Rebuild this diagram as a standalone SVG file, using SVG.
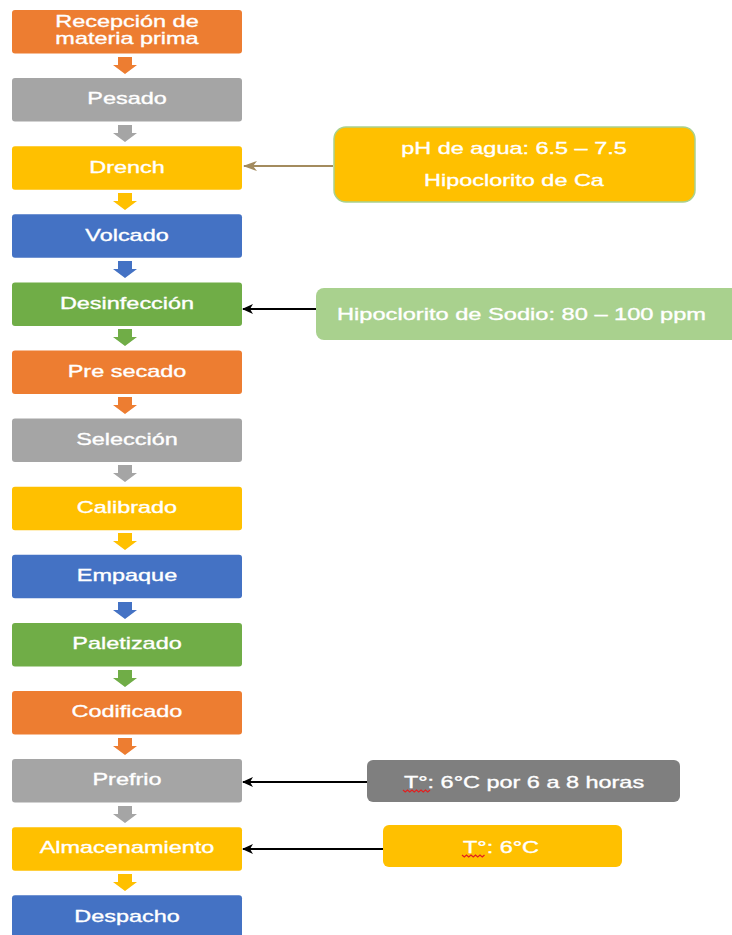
<svg xmlns="http://www.w3.org/2000/svg" width="732" height="935" viewBox="0 0 732 935">
<style>
.t{font-family:"Liberation Sans",Arial,sans-serif;font-size:17px;fill:#ffffff;stroke:#ffffff;stroke-width:0.35;text-anchor:middle}
.ts{text-anchor:start}
.or{fill:#ED7D31}.gr{fill:#A5A5A5}.ye{fill:#FFC000}.bl{fill:#4472C4}.gn{fill:#70AD47}
.ln{stroke:#000;stroke-width:1.8;fill:none}
.sq{stroke:#E02020;stroke-width:1.2;fill:none}
</style>
<defs>
<marker id="ah" markerWidth="11" markerHeight="10" refX="10" refY="5" orient="auto" markerUnits="userSpaceOnUse">
<path d="M0,0 L11,5 L0,10 L3,5 Z" fill="#000"/>
</marker>
<marker id="ahT" markerWidth="14" markerHeight="10" refX="13" refY="5" orient="auto" markerUnits="userSpaceOnUse">
<path d="M0,0 L14,5 L0,10 L4,5 Z" fill="#A38B5E"/>
</marker>
</defs>

<g id="n-recepcion"><rect class="or" x="12" y="10" width="230" height="43.5" rx="3"/>
<text class="t" transform="matrix(1.38 0 0 1 127 27)">Recepción de</text>
<text class="t" transform="matrix(1.38 0 0 1 127 44)">materia prima</text></g>
<g id="n-pesado"><rect class="gr" x="12" y="78.1" width="230" height="43.5" rx="3"/>
<text class="t" transform="matrix(1.38 0 0 1 127 104)">Pesado</text></g>
<g id="n-drench"><rect class="ye" x="12" y="146.2" width="230" height="43.5" rx="3"/>
<text class="t" transform="matrix(1.38 0 0 1 127 173)">Drench</text></g>
<g id="n-volcado"><rect class="bl" x="12" y="214.3" width="230" height="43.5" rx="3"/>
<text class="t" transform="matrix(1.38 0 0 1 127 241)">Volcado</text></g>
<g id="n-desinfeccion"><rect class="gn" x="12" y="282.4" width="230" height="43.5" rx="3"/>
<text class="t" transform="matrix(1.38 0 0 1 127 309)">Desinfección</text></g>
<g id="n-presecado"><rect class="or" x="12" y="350.5" width="230" height="43.5" rx="3"/>
<text class="t" transform="matrix(1.38 0 0 1 127 377)">Pre secado</text></g>
<g id="n-seleccion"><rect class="gr" x="12" y="418.6" width="230" height="43.5" rx="3"/>
<text class="t" transform="matrix(1.38 0 0 1 127 445)">Selección</text></g>
<g id="n-calibrado"><rect class="ye" x="12" y="486.7" width="230" height="43.5" rx="3"/>
<text class="t" transform="matrix(1.38 0 0 1 127 513)">Calibrado</text></g>
<g id="n-empaque"><rect class="bl" x="12" y="554.8" width="230" height="43.5" rx="3"/>
<text class="t" transform="matrix(1.38 0 0 1 127 581)">Empaque</text></g>
<g id="n-paletizado"><rect class="gn" x="12" y="622.9" width="230" height="43.5" rx="3"/>
<text class="t" transform="matrix(1.38 0 0 1 127 649)">Paletizado</text></g>
<g id="n-codificado"><rect class="or" x="12" y="691" width="230" height="43.5" rx="3"/>
<text class="t" transform="matrix(1.38 0 0 1 127 717)">Codificado</text></g>
<g id="n-prefrio"><rect class="gr" x="12" y="759.1" width="230" height="43.5" rx="3"/>
<text class="t" transform="matrix(1.38 0 0 1 127 785)">Prefrio</text></g>
<g id="n-almacenamiento"><rect class="ye" x="12" y="827.2" width="230" height="43.5" rx="3"/>
<text class="t" transform="matrix(1.38 0 0 1 127 853)">Almacenamiento</text></g>
<g id="n-despacho"><rect class="bl" x="12" y="895.3" width="230" height="43.5" rx="3"/>
<text class="t" transform="matrix(1.38 0 0 1 127 922)">Despacho</text></g>

<g id="n-ph"><rect x="334" y="127" width="361" height="75" rx="12" fill="#FFC000" stroke="#A9D18E" stroke-width="1.5"/>
<text class="t" transform="matrix(1.38 0 0 1 514 154)">pH de agua: 6.5 – 7.5</text>
<text class="t" transform="matrix(1.38 0 0 1 514 186)">Hipoclorito de Ca</text></g>
<g id="n-sodio"><rect x="316" y="288" width="430" height="52" rx="8" fill="#A9D18E"/>
<text class="t ts" transform="matrix(1.39 0 0 1 337 320)">Hipoclorito de Sodio: 80 – 100 ppm</text></g>
<g id="n-temp1"><rect x="367" y="760" width="313" height="42" rx="6" fill="#7F7F7F"/>
<text class="t" transform="matrix(1.38 0 0 1 524 788)">T°: 6°C por 6 a 8 horas</text>
<path class="sq" d="M403,790 l2.25,2 2.25,-2 2.25,2 2.25,-2 2.25,2 2.25,-2 2.25,2 2.25,-2 2.25,2 2.25,-2 2.25,2 2.25,-2"/></g>
<g id="n-temp2"><rect x="383" y="825" width="239" height="42" rx="6" fill="#FFC000"/>
<text class="t" transform="matrix(1.38 0 0 1 501 853)">T°: 6°C</text>
<path class="sq" d="M462,855 l2.25,2 2.25,-2 2.25,2 2.25,-2 2.25,2 2.25,-2 2.25,2 2.25,-2 2.25,2 2.25,-2"/></g>

<g id="connectors">
<path class="or" d="M118,57 H132 V65 H137 L125,74 L113,65 H118 Z"/>
<path class="gr" d="M118,125 H132 V133 H137 L125,142 L113,133 H118 Z"/>
<path class="ye" d="M118,193 H132 V201 H137 L125,210 L113,201 H118 Z"/>
<path class="bl" d="M118,261 H132 V269 H137 L125,278 L113,269 H118 Z"/>
<path class="gn" d="M118,329 H132 V337 H137 L125,346 L113,337 H118 Z"/>
<path class="or" d="M118,397 H132 V405 H137 L125,414 L113,405 H118 Z"/>
<path class="gr" d="M118,465 H132 V473 H137 L125,482 L113,473 H118 Z"/>
<path class="ye" d="M118,533 H132 V541 H137 L125,550 L113,541 H118 Z"/>
<path class="bl" d="M118,602 H132 V610 H137 L125,619 L113,610 H118 Z"/>
<path class="gn" d="M118,670 H132 V678 H137 L125,687 L113,678 H118 Z"/>
<path class="or" d="M118,738 H132 V746 H137 L125,755 L113,746 H118 Z"/>
<path class="gr" d="M118,806 H132 V814 H137 L125,823 L113,814 H118 Z"/>
<path class="ye" d="M118,874 H132 V882 H137 L125,891 L113,882 H118 Z"/>
<line x1="333" y1="166" x2="244" y2="166" stroke="#A38B5E" stroke-width="2" marker-end="url(#ahT)"/>
<line class="ln" x1="316" y1="309" x2="243" y2="309" marker-end="url(#ah)"/>
<line class="ln" x1="367" y1="782" x2="243" y2="782" marker-end="url(#ah)"/>
<line class="ln" x1="383" y1="849" x2="243" y2="849" marker-end="url(#ah)"/>
</g>
</svg>
